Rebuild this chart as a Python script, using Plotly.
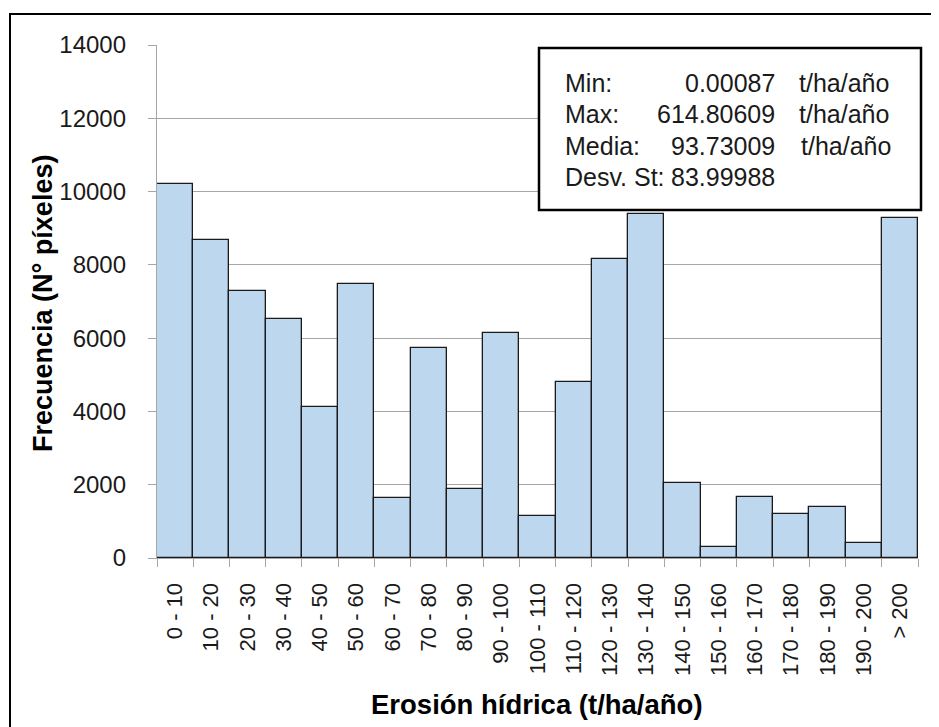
import plotly.graph_objects as go

categories = ["0 - 10", "10 - 20", "20 - 30", "30 - 40", "40 - 50", "50 - 60",
              "60 - 70", "70 - 80", "80 - 90", "90 - 100", "100 - 110",
              "110 - 120", "120 - 130", "130 - 140", "140 - 150", "150 - 160",
              "160 - 170", "170 - 180", "180 - 190", "190 - 200", "> 200"]
frecuencia = [10200, 8670, 7300, 6520, 4125, 7470, 1640, 5730, 1890, 6150, 1150,
              4790, 8170, 9380, 2060, 290, 1660, 1200, 1400, 410, 9290]
y_ticks = [0, 2000, 4000, 6000, 8000, 10000, 12000, 14000]

stat_labels = ["Min:", "Max:", "Media:", "Desv. St:"]
stat_values = ["0.00087", "614.80609", "93.73009", "83.99988"]
stat_units = ["t/ha/año", "t/ha/año", "t/ha/año", ""]

# the page body has an 8px margin; page coordinates are converted below
OFF = 8
W_PX, H_PX = 939 - OFF, 727 - OFF
L, R, T, B = 157 - OFF, 918 - OFF, 45 - OFF, 558 - OFF
PW, PH = R - L, B - T


def px(xp):
    return (xp - OFF - L) / PW


def py(yp):
    return (B - (yp - OFF)) / PH


fig = go.Figure()
fig.add_trace(go.Bar(
    x=categories, y=frecuencia,
    marker=dict(color="#BDD7EE", line=dict(color="#1a1a1a", width=1.3)),
    showlegend=False,
))

grey = "#A6A6A6"
fig.update_layout(
    width=W_PX, height=H_PX,
    margin=dict(l=L, r=W_PX - R, t=T, b=H_PX - B, autoexpand=False),
    paper_bgcolor="white", plot_bgcolor="white",
    bargap=0,
    font=dict(family="Liberation Sans, Arial, sans-serif", color="#1a1a1a"),
    xaxis=dict(
        type="category", tickson="boundaries", ticks="outside", ticklen=8,
        tickcolor=grey, tickwidth=1.3, showline=True, linecolor=grey, linewidth=1.3,
        showgrid=False, tickangle=-90, tickfont=dict(size=22, color="#1a1a1a"),
        ticklabelstandoff=15, automargin=False,
    ),
    yaxis=dict(
        range=[0, 14000], tickvals=y_ticks, tickformat="d", ticks="outside", ticklen=8,
        tickcolor=grey, tickwidth=1.3, showline=True, linecolor=grey, linewidth=1.3,
        showgrid=True, gridcolor=grey, gridwidth=1.3, zeroline=False,
        tickfont=dict(size=24, color="#1a1a1a"), ticklabelstandoff=17,
        automargin=False,
    ),
)

shapes = [
    # outer chart border
    dict(type="rect", xref="paper", yref="paper",
         x0=px(10), x1=px(960), y0=py(760), y1=py(14),
         line=dict(color="black", width=2), fillcolor="rgba(0,0,0,0)", layer="above"),
    # statistics box
    dict(type="rect", xref="paper", yref="paper",
         x0=px(539), x1=px(921), y0=py(210), y1=py(48),
         line=dict(color="black", width=2.5), fillcolor="white", layer="above"),
]
fig.update_layout(shapes=shapes)

annotations = []
line_y = [83, 114.5, 146, 177]
for lab, val, unit, yy in zip(stat_labels, stat_values, stat_units, line_y):
    annotations.append(dict(xref="paper", yref="paper", x=px(563), y=py(yy), text=lab,
                            showarrow=False, xanchor="left", yanchor="middle",
                            font=dict(size=25, color="#1a1a1a")))
    annotations.append(dict(xref="paper", yref="paper", x=px(777), y=py(yy), text=val,
                            showarrow=False, xanchor="right", yanchor="middle",
                            font=dict(size=25, color="#1a1a1a")))
    if unit:
        annotations.append(dict(xref="paper", yref="paper",
                                x=px(799 if lab == "Media:" else 797), y=py(yy),
                                text=unit, showarrow=False, xanchor="left",
                                yanchor="middle", font=dict(size=25, color="#1a1a1a")))

# axis titles
annotations.append(dict(xref="paper", yref="paper", x=px(537), y=py(704),
                        text="<b>Erosión hídrica (t/ha/año)</b>", showarrow=False,
                        xanchor="center", yanchor="middle",
                        font=dict(size=27.5, color="black")))
annotations.append(dict(xref="paper", yref="paper", x=px(43), y=py(304),
                        text="<b>Frecuencia (N° píxeles)</b>", showarrow=False,
                        textangle=-90, xanchor="center", yanchor="middle",
                        font=dict(size=27, color="black")))
fig.update_layout(annotations=annotations)

fig.write_html("out.html")
